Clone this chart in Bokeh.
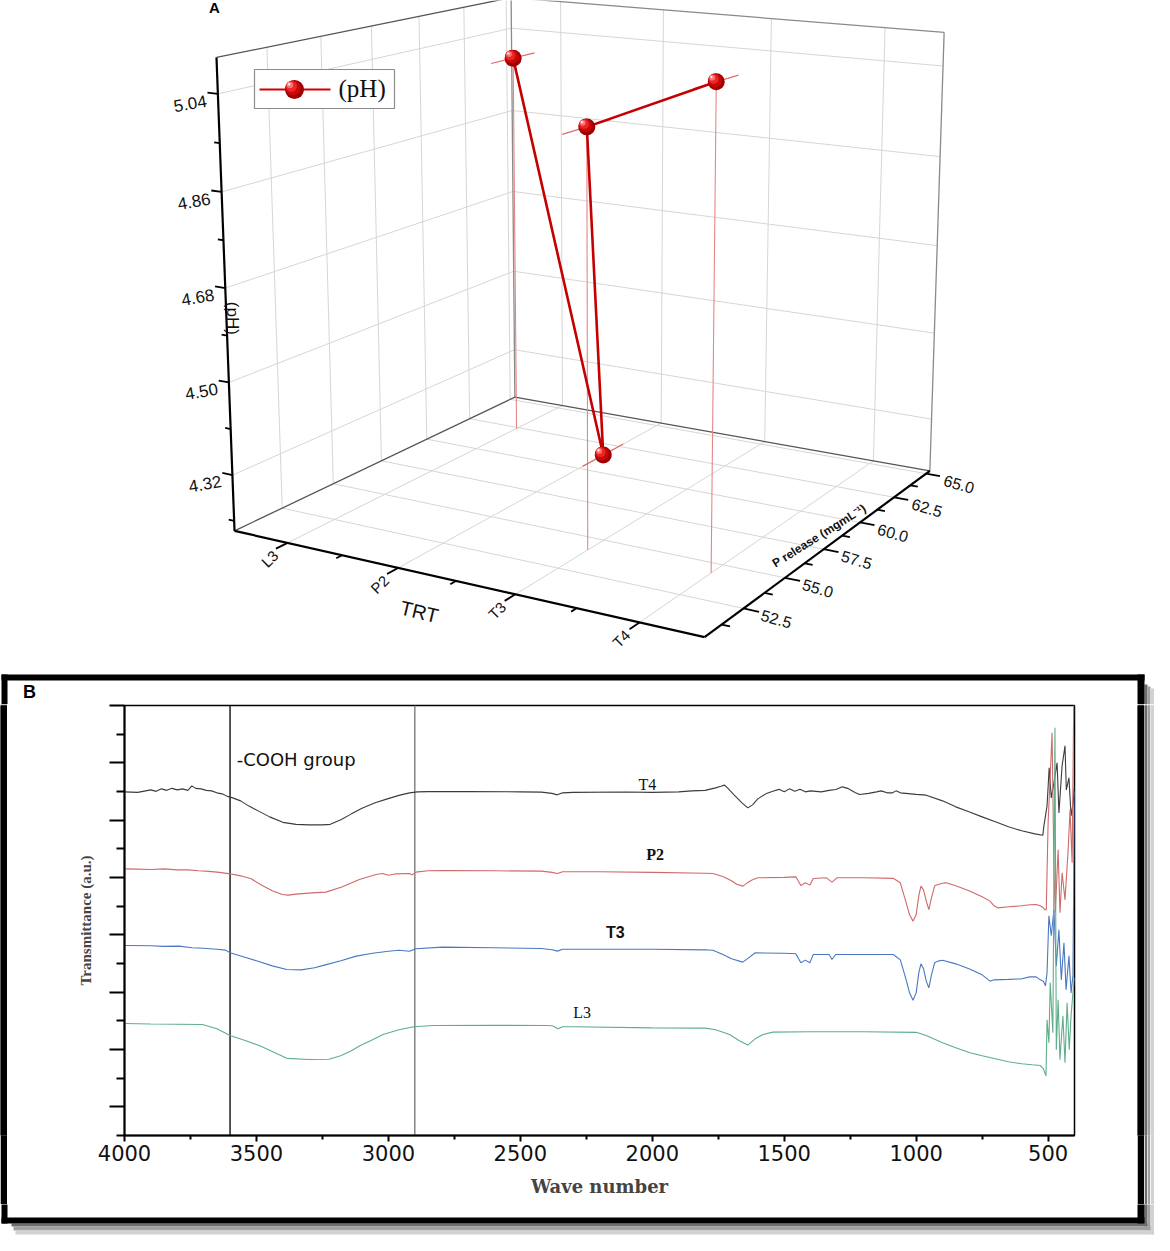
import numpy as np
from bokeh.plotting import figure
from bokeh.models import Range1d, FixedTicker
from bokeh.layouts import column, row
from bokeh.embed import file_html
from bokeh.resources import INLINE
from bokeh.core.properties import value

# ---------------- Panel A data ----------------
trt_labels = ["L3", "P2", "T3", "T4"]
trt_pos = [1, 2, 3, 4]
p_release = [62.4, 61.5, 54.1, 54.3]
ph_values = [5.01, 4.21, 5.00, 5.10]

trt_range = (0.5, 4.5)
p_range = (50.3, 65.3)
ph_range = (4.21, 5.106)
ph_ticks = [4.32, 4.50, 4.68, 4.86, 5.04]
ph_minor = [4.23, 4.41, 4.59, 4.77, 4.95]
p_ticks = [52.5, 55.0, 57.5, 60.0, 62.5, 65.0]
p_minor = [51.25, 53.75, 56.25, 58.75, 61.25, 63.75]
trt_minor = [1.5, 2.5, 3.5]

# ---------------- Panel B data (FTIR) ----------------
t4_wn = [4000, 3950, 3900, 3880, 3860, 3840, 3820, 3800, 3780, 3760, 3745, 3730, 3710, 3690, 3670, 3650,
         3630, 3610, 3590, 3560, 3530, 3490, 3450, 3400, 3350, 3300, 3250, 3220, 3180, 3140, 3100, 3050,
         3010, 2960, 2920, 2890, 2850, 2700, 2500, 2420, 2380, 2360, 2340, 2300, 2100, 2000, 1900, 1850,
         1800, 1760, 1740, 1726, 1715, 1690, 1660, 1638, 1620, 1600, 1570, 1543, 1520, 1500, 1480, 1460,
         1440, 1420, 1400, 1360, 1330, 1304, 1280, 1260, 1230, 1214, 1180, 1150, 1133, 1110, 1090, 1076,
         1060, 1000, 962, 900, 850, 800, 750, 700, 650, 600, 550, 520, 516, 504, 496, 488, 478, 466, 459,
         447, 436, 431, 421, 413, 405, 400]
t4_val = [10.988, 10.970, 11.057, 11.005, 11.092, 11.040, 11.110, 11.057, 11.092, 11.040, 11.197, 11.110,
          11.092, 11.040, 11.022, 10.953, 10.918, 10.830, 10.778, 10.673, 10.499, 10.307, 10.115, 9.924,
          9.854, 9.837, 9.837, 9.854, 10.011, 10.220, 10.412, 10.604, 10.726, 10.865, 10.953, 10.988,
          10.995, 10.995, 10.988, 10.977, 10.935, 10.883, 10.953, 10.970, 10.981, 10.970, 10.988, 11.022,
          11.040, 11.127, 11.180, 11.222, 11.127, 10.883, 10.604, 10.429, 10.534, 10.743, 10.918, 11.012,
          11.075, 10.988, 11.092, 11.005, 11.075, 10.988, 11.022, 10.988, 11.040, 11.068, 11.162, 11.110,
          10.953, 10.893, 10.935, 10.988, 11.022, 10.953, 10.953, 11.022, 10.953, 10.900, 10.872, 10.673,
          10.464, 10.290, 10.115, 9.941, 9.767, 9.628, 9.523, 9.471, 9.802, 10.499, 11.824, 10.778, 11.301,
          11.999, 10.255, 11.894, 12.591, 11.057, 11.475, 10.150, 10.604, 11.200]

p2_wn = [4000, 3950, 3900, 3850, 3800, 3760, 3720, 3680, 3640, 3600, 3560, 3520, 3478, 3440, 3402, 3380,
         3340, 3288, 3237, 3174, 3110, 3047, 3022, 3000, 2970, 2921, 2910, 2896, 2850, 2795, 2600, 2420,
         2380, 2359, 2340, 2200, 2000, 1800, 1770, 1730, 1700, 1680, 1657, 1640, 1620, 1600, 1500, 1456,
         1437, 1420, 1403, 1390, 1340, 1319, 1300, 1200, 1087, 1060, 1040, 1025, 1012, 1000, 990, 982,
         972, 962, 952, 942, 930, 917, 900, 886, 850, 800, 750, 720, 705, 690, 650, 600, 569, 545, 530,
         518, 512, 507, 500, 492, 485, 478, 473, 462, 455, 447, 436, 424, 417, 409, 403, 400]
p2_val = [8.302, 8.292, 8.278, 8.302, 8.267, 8.267, 8.233, 8.215, 8.180, 8.128, 8.058, 7.954, 7.720, 7.535,
          7.406, 7.385, 7.430, 7.465, 7.490, 7.675, 7.929, 8.104, 8.139, 8.076, 8.128, 8.139, 8.093, 8.187,
          8.233, 8.243, 8.233, 8.222, 8.180, 8.139, 8.198, 8.198, 8.180, 8.146, 8.139, 8.023, 7.884, 7.762,
          7.699, 7.814, 7.919, 7.989, 8.006, 8.023, 7.720, 7.814, 7.734, 7.964, 7.989, 7.839, 7.989, 7.989,
          7.971, 7.814, 7.186, 6.698, 6.478, 6.698, 7.361, 7.699, 7.570, 7.186, 6.883, 7.291, 7.710, 7.755,
          7.797, 7.814, 7.710, 7.535, 7.326, 7.176, 7.012, 6.942, 6.977, 7.012, 7.047, 7.057, 7.012, 6.942,
          6.873, 6.873, 9.907, 11.547, 13.047, 8.267, 6.768, 8.964, 6.768, 8.163, 7.221, 8.964, 10.360,
          8.512, 14.0, 14.0]

t3_wn = [4000, 3900, 3850, 3794, 3743, 3700, 3650, 3617, 3600, 3550, 3500, 3440, 3385, 3330, 3280, 3239,
         3180, 3122, 3060, 3000, 2960, 2920, 2896, 2795, 2600, 2420, 2380, 2359, 2340, 2000, 1800, 1770,
         1730, 1700, 1657, 1640, 1610, 1500, 1456, 1437, 1420, 1403, 1390, 1330, 1319, 1305, 1200, 1087,
         1060, 1040, 1025, 1012, 1000, 990, 982, 972, 962, 952, 942, 930, 917, 900, 850, 800, 750, 720,
         705, 650, 600, 569, 545, 530, 518, 510, 504, 497, 488, 478, 469, 459, 450, 440, 432, 421, 413,
         406, 400]
t3_val = [5.627, 5.617, 5.599, 5.606, 5.547, 5.530, 5.495, 5.467, 5.373, 5.233, 5.093, 4.918, 4.790, 4.779,
          4.849, 4.953, 5.093, 5.257, 5.355, 5.425, 5.460, 5.425, 5.512, 5.572, 5.547, 5.523, 5.477, 5.432,
          5.495, 5.495, 5.477, 5.460, 5.303, 5.163, 5.048, 5.163, 5.373, 5.355, 5.338, 5.023, 5.118, 5.023,
          5.313, 5.313, 5.139, 5.313, 5.313, 5.313, 5.128, 4.499, 3.976, 3.721, 3.976, 4.674, 4.988, 4.814,
          4.395, 4.150, 4.604, 5.023, 5.083, 5.111, 4.988, 4.814, 4.604, 4.384, 4.430, 4.447, 4.465, 4.534,
          4.534, 4.430, 4.384, 4.220, 4.674, 6.663, 5.966, 6.873, 4.918, 6.175, 4.430, 5.721, 4.081, 5.268,
          3.976, 4.569, 11.000]

l3_wn = [4000, 3900, 3800, 3705, 3650, 3600, 3540, 3487, 3430, 3385, 3300, 3225, 3181, 3140, 3108, 3060,
         3020, 2960, 2904, 2831, 2600, 2400, 2379, 2357, 2340, 2300, 2000, 1800, 1760, 1707, 1670, 1638,
         1610, 1580, 1543, 1400, 1200, 1000, 962, 900, 850, 796, 750, 700, 650, 600, 560, 530, 518, 508,
         504, 497, 492, 482, 474, 469, 462, 455, 444, 436, 428, 420, 413, 406, 400]
l3_val = [2.907, 2.889, 2.879, 2.872, 2.722, 2.488, 2.303, 2.129, 1.885, 1.692, 1.651, 1.658, 1.780, 1.954,
          2.129, 2.338, 2.523, 2.687, 2.791, 2.837, 2.844, 2.837, 2.826, 2.722, 2.791, 2.791, 2.756, 2.746,
          2.687, 2.523, 2.303, 2.153, 2.373, 2.523, 2.606, 2.617, 2.617, 2.599, 2.488, 2.233, 2.059, 1.885,
          1.780, 1.675, 1.571, 1.501, 1.466, 1.442, 1.327, 1.083, 3.036, 2.233, 4.325, 2.582, 13.220, 1.989,
          3.733, 1.641, 3.175, 1.536, 3.628, 1.989, 3.175, 3.976, 4.499]

spectra_names = ["T4", "P2", "T3", "L3"]
spectra_colors = ["#3c3c3c", "#cf6a6a", "#4a78c0", "#5fae8a"]
curve_label_wn = [2019, 1989, 2140, 2266]
curve_label_val = [11.23, 8.79, 6.07, 3.28]
cooh_bounds = [3600, 2900]
wn_ticks = [4000, 3500, 3000, 2500, 2000, 1500, 1000, 500]
wn_minor = [3750, 3250, 2750, 2250, 1750, 1250, 750]
tr_ticks = [0, 2, 4, 6, 8, 10, 12, 14]
tr_minor = [-1, 1, 3, 5, 7, 9, 11, 13]

# ---------------- helpers ----------------
def pixel_fig(x0, x1, y0, y1):
    p = figure(width=x1 - x0, height=y1 - y0,
               x_range=Range1d(x0, x1), y_range=Range1d(-y1, -y0),
               output_backend="svg", toolbar_location=None,
               x_axis_type=None, y_axis_type=None, min_border=0)
    p.outline_line_color = None
    p.background_fill_color = "white"
    p.border_fill_color = "white"
    return p


def solid_fig(w, h, color):
    p = figure(width=w, height=h, x_range=Range1d(0, 1), y_range=Range1d(0, 1),
               output_backend="svg", toolbar_location=None,
               x_axis_type=None, y_axis_type=None, min_border=0)
    p.outline_line_color = None
    p.background_fill_color = color
    p.border_fill_color = color
    p.quad(left=[0], right=[1], top=[1], bottom=[0], fill_color=color, line_color=None)
    return p


def draw_frame(p):
    shadows = [(1152, 1155, 692, 1234, "#6d6d6d"), (1155, 1158, 694, 1238, "#a0a0a0"),
               (1158, 1162, 696, 1242, "#d2d2d2"),
               (19, 1155, 1231, 1234, "#6d6d6d"), (21, 1158, 1234, 1238, "#a0a0a0"),
               (23, 1162, 1238, 1242, "#d2d2d2")]
    for l, r, t, b, c in shadows:
        p.quad(left=[l], right=[r], top=[-t], bottom=[-b], fill_color=c, line_color=None)
    blacks = [(9, 1152, 682, 688), (9, 1152, 1225, 1231), (9, 15, 682, 1231), (1145, 1152, 682, 1231)]
    for l, r, t, b in blacks:
        p.quad(left=[l], right=[r], top=[-t], bottom=[-b], fill_color="black", line_color=None)


# ---------------- 3D projection (perspective camera fitted to the box corners) ----------------
box_uvw = [(0, 0, 0), (1, 0, 0), (1, 1, 0), (0, 1, 0), (0, 0, 1), (0, 1, 1), (1, 1, 1)]
box_px = [(243, 538), (712, 645), (938, 478), (521, 405), (223, 65), (520, 5), (951, 40)]
rows, rhs = [], []
for (X, Y, Z), (x, y) in zip(box_uvw, box_px):
    rows.append([X, Y, Z, 1, 0, 0, 0, 0, -x * X, -x * Y, -x * Z]); rhs.append(x)
    rows.append([0, 0, 0, 0, X, Y, Z, 1, -y * X, -y * Y, -y * Z]); rhs.append(y)
sol = np.linalg.lstsq(np.array(rows, float), np.array(rhs, float), rcond=None)[0]
CAM = np.append(sol, 1.0).reshape(3, 4)


def project(u, v, w):
    h = CAM @ np.array([u, v, w, 1.0])
    return h[0] / h[2], h[1] / h[2]


def nu(t):
    return (t - trt_range[0]) / (trt_range[1] - trt_range[0])


def nv(pv):
    return (pv - p_range[0]) / (p_range[1] - p_range[0])


def nw(z):
    return (z - ph_range[0]) / (ph_range[1] - ph_range[0])


def add_segments(p, segs, **kw):
    x0, y0, x1, y1 = [], [], [], []
    for a, b in segs:
        xa, ya = project(*a)
        xb, yb = project(*b)
        x0.append(xa); y0.append(-ya); x1.append(xb); y1.append(-yb)
    p.segment(x0=x0, y0=y0, x1=x1, y1=y1, **kw)


def sphere(p, xs, ys, size):
    layers = [(1.0, "#a00000", 0.0), (0.8, "#c80808", 0.08), (0.58, "#ea2626", 0.16),
              (0.34, "#ff7070", 0.24), (0.14, "#ffe4e4", 0.28)]
    for frac, col, off in layers:
        p.scatter([x - off * size for x in xs], [y + off * size for y in ys], size=size * frac,
                  fill_color=col, line_color=None)


# ---------------- Figure A (3D panel) ----------------
pA = pixel_fig(8, 1162, 8, 712)

grid = []
for t in trt_pos:
    grid.append(((nu(t), 0, 0), (nu(t), 1, 0)))
    grid.append(((nu(t), 1, 0), (nu(t), 1, 1)))
for pv in p_ticks:
    grid.append(((0, nv(pv), 0), (1, nv(pv), 0)))
    grid.append(((0, nv(pv), 0), (0, nv(pv), 1)))
for z in ph_ticks:
    grid.append(((0, 0, nw(z)), (0, 1, nw(z))))
    grid.append(((0, 1, nw(z)), (1, 1, nw(z))))
add_segments(pA, grid, line_color="#d6d6d6", line_width=1)

edges_light = [((0, 1, 0), (0, 1, 1)), ((1, 1, 0), (1, 1, 1)), ((0, 1, 1), (1, 1, 1))]
add_segments(pA, edges_light, line_color="#8a8a8a", line_width=1.3)
edges_dark = [((0, 0, 1), (0, 1, 1)), ((0, 1, 0), (1, 1, 0)), ((0, 0, 0), (0, 1, 0))]
add_segments(pA, edges_dark, line_color="#555555", line_width=1.3)

axes3d = [((0, 0, 0), (0, 0, 1)), ((0, 0, 0), (1, 0, 0)), ((1, 0, 0), (1, 1, 0))]
add_segments(pA, axes3d, line_color="black", line_width=2.2)

ticks = []
for z in ph_ticks:
    ticks.append(((0, 0, nw(z)), (-0.024, 0, nw(z))))
for z in ph_minor:
    ticks.append(((0, 0, nw(z)), (-0.013, 0, nw(z))))
for t in trt_pos:
    ticks.append(((nu(t), 0, 0), (nu(t), -0.035, 0)))
for t in trt_minor:
    ticks.append(((nu(t), 0, 0), (nu(t), -0.018, 0)))
for pv in p_ticks:
    ticks.append(((1, nv(pv), 0), (1.03, nv(pv), 0)))
for pv in p_minor:
    ticks.append(((1, nv(pv), 0), (1.016, nv(pv), 0)))
add_segments(pA, ticks, line_color="black", line_width=1.8)

# tick labels
zx, zy = [], []
for z in ph_ticks:
    x, y = project(-0.024, 0, nw(z))
    zx.append(x - 1); zy.append(-(y + 8))
pA.text(x=zx, y=zy, text=[f"{z:.2f}" for z in ph_ticks], angle=0.17,
        text_font=value("Liberation Sans"), text_font_size="17px", text_align="right",
        text_baseline="middle", text_color="#111111")

tx, ty = [], []
for t in trt_pos:
    x, y = project(nu(t), 0, 0)
    tx.append(x - 12); ty.append(-(y + 10))
pA.text(x=tx, y=ty, text=trt_labels, angle=np.pi / 4,
        text_font=value("Liberation Sans"), text_font_size="15px", text_align="right",
        text_baseline="middle", text_color="#111111")

px_, py_ = [], []
for pv in p_ticks:
    x, y = project(1, nv(pv), 0)
    px_.append(x + 18); py_.append(-(y + 6))
pA.text(x=px_, y=py_, text=[f"{pv:.1f}" for pv in p_ticks], angle=-0.28,
        text_font=value("Liberation Sans"), text_font_size="16px", text_align="left",
        text_baseline="middle", text_color="#111111")

# axis titles
x, y = project(nu(2.15), 0, 0)
pA.text(x=[x + 4], y=[-(y + 40)], text=["TRT"], angle=-0.235,
        text_font=value("Liberation Sans"), text_font_size="20px", text_align="center",
        text_baseline="middle", text_color="#111111")
x, y = project(0, 0, 0.45)
pA.text(x=[x + 6], y=[-(y - 5)], text=["(pH)"], angle=-np.pi / 2,
        text_font=value("Liberation Sans"), text_font_size="17px", text_align="center",
        text_baseline="middle", text_color="#111111")
x, y = project(1, nv(58.0), 0)
pA.text(x=[x - 12], y=[-(y - 8)], text=["P release (mgmL\u207b\u00b9)"], angle=0.56,
        text_font=value("Liberation Sans"), text_font_size="12px", text_font_style="bold",
        text_align="center", text_baseline="middle", text_color="#111111")

# data: drop lines, short lines along P-release direction, connecting line, spheres
drops = [((nu(t), nv(pv), nw(z)), (nu(t), nv(pv), 0)) for t, pv, z in zip(trt_pos, p_release, ph_values)]
add_segments(pA, drops, line_color="#e58686", line_width=1.1)
shorts = [((nu(t), nv(pv) - 0.085, nw(z)), (nu(t), nv(pv) + 0.085, nw(z)))
          for t, pv, z in zip(trt_pos, p_release, ph_values)]
add_segments(pA, shorts, line_color="#e06a6a", line_width=1.2)

dx, dy = [], []
for t, pv, z in zip(trt_pos, p_release, ph_values):
    x, y = project(nu(t), nv(pv), nw(z))
    dx.append(x); dy.append(-y)
pA.line(dx, dy, line_color="#c40000", line_width=2.6)
sphere(pA, dx, dy, 17)

# legend
pA.quad(left=[262], right=[402], top=[-77], bottom=[-116], fill_color="white",
        line_color="#8c8c8c", line_width=1.2)
pA.line([267, 338], [-97, -97], line_color="#d40000", line_width=2.2)
sphere(pA, [302], [-97], 19)
pA.text(x=[346], y=[-96], text=["(pH)"], text_font=value("Liberation Serif"), text_font_size="25px",
        text_align="left", text_baseline="middle", text_color="#111111")

pA.text(x=[222], y=[-15], text=["A"], text_font=value("Liberation Sans"), text_font_size="15px",
        text_font_style="bold", text_align="center", text_baseline="middle", text_color="black")

draw_frame(pA)
pA.text(x=[37], y=[-699], text=["B"], text_font=value("Liberation Sans"), text_font_size="18px",
        text_font_style="bold", text_align="center", text_baseline="middle", text_color="black")

# ---------------- Figure B (FTIR) ----------------
pB = figure(width=1130, height=500, x_range=Range1d(4000, 400), y_range=Range1d(-1, 14),
            output_backend="svg", toolbar_location=None,
            min_border_left=117, min_border_right=63, min_border_top=1, min_border_bottom=69)
pB.background_fill_color = "white"
pB.border_fill_color = "white"
pB.outline_line_color = "black"
pB.outline_line_width = 1.5
pB.xgrid.visible = False
pB.ygrid.visible = False

pB.xaxis.ticker = FixedTicker(ticks=wn_ticks, minor_ticks=wn_minor)
pB.xaxis.major_label_text_font = "DejaVu Sans"
pB.xaxis.major_label_text_font_size = "21px"
pB.xaxis.major_label_text_color = "#111111"
pB.xaxis.major_label_standoff = 3
pB.xaxis.major_tick_in = 0
pB.xaxis.major_tick_out = 6
pB.xaxis.minor_tick_in = 0
pB.xaxis.minor_tick_out = 4
pB.xaxis.axis_line_width = 2
pB.xaxis.major_tick_line_width = 2
pB.xaxis.minor_tick_line_width = 2
pB.xaxis.axis_label = "Wave number"
pB.xaxis.axis_label_text_font = "DejaVu Serif"
pB.xaxis.axis_label_text_font_style = "bold"
pB.xaxis.axis_label_text_font_size = "18px"
pB.xaxis.axis_label_standoff = 12

pB.yaxis.ticker = FixedTicker(ticks=tr_ticks, minor_ticks=tr_minor)
pB.yaxis.major_label_text_color = None
pB.yaxis.major_tick_in = 0
pB.yaxis.major_tick_out = 15
pB.yaxis.minor_tick_in = 0
pB.yaxis.minor_tick_out = 8
pB.yaxis.axis_line_width = 2
pB.yaxis.major_tick_line_width = 2
pB.yaxis.minor_tick_line_width = 2
pB.yaxis.axis_label = "Transmittance (a.u.)"
pB.yaxis.axis_label_text_font = "Liberation Serif"
pB.yaxis.axis_label_text_font_style = "bold"
pB.yaxis.axis_label_text_font_size = "15px"
pB.yaxis.axis_label_standoff = 16

pB.segment(x0=cooh_bounds, y0=[-1, -1], x1=cooh_bounds, y1=[14, 14],
           line_color=["#2e2e2e", "#8a8a8a"], line_width=1.6)

series = [(t4_wn, t4_val), (p2_wn, p2_val), (t3_wn, t3_val), (l3_wn, l3_val)]
for (wn, val), col in zip(series, spectra_colors):
    pB.line(wn, val, line_color=col, line_width=1.1)

pB.text(x=[3575], y=[12.1], text=["-COOH group"], text_font=value("DejaVu Sans"),
        text_font_size="18px", text_align="left", text_baseline="middle", text_color="#111111")
label_fonts = ["Liberation Serif", "Liberation Serif", "Liberation Sans", "Liberation Serif"]
label_styles = ["normal", "bold", "bold", "normal"]
for name, xw, yv, fnt, sty in zip(spectra_names, curve_label_wn, curve_label_val, label_fonts, label_styles):
    pB.text(x=[xw], y=[yv], text=[name], text_font=value(fnt), text_font_size="16px",
            text_font_style=sty, text_align="center", text_baseline="middle", text_color="#111111")

# solid strips forming the left/right sides of the panel B frame (and its shadow)
strips = [solid_fig(7, 500, "black")]
strips_right = [solid_fig(7, 500, "black"), solid_fig(3, 500, "#6d6d6d"),
                solid_fig(3, 500, "#a0a0a0"), solid_fig(4, 500, "#d2d2d2")]
pBot = pixel_fig(8, 1162, 1212, 1243)
draw_frame(pBot)

layout = column(pA, row(strips + [pB] + strips_right), pBot)
open("out.html", "w").write(file_html(layout, INLINE))
